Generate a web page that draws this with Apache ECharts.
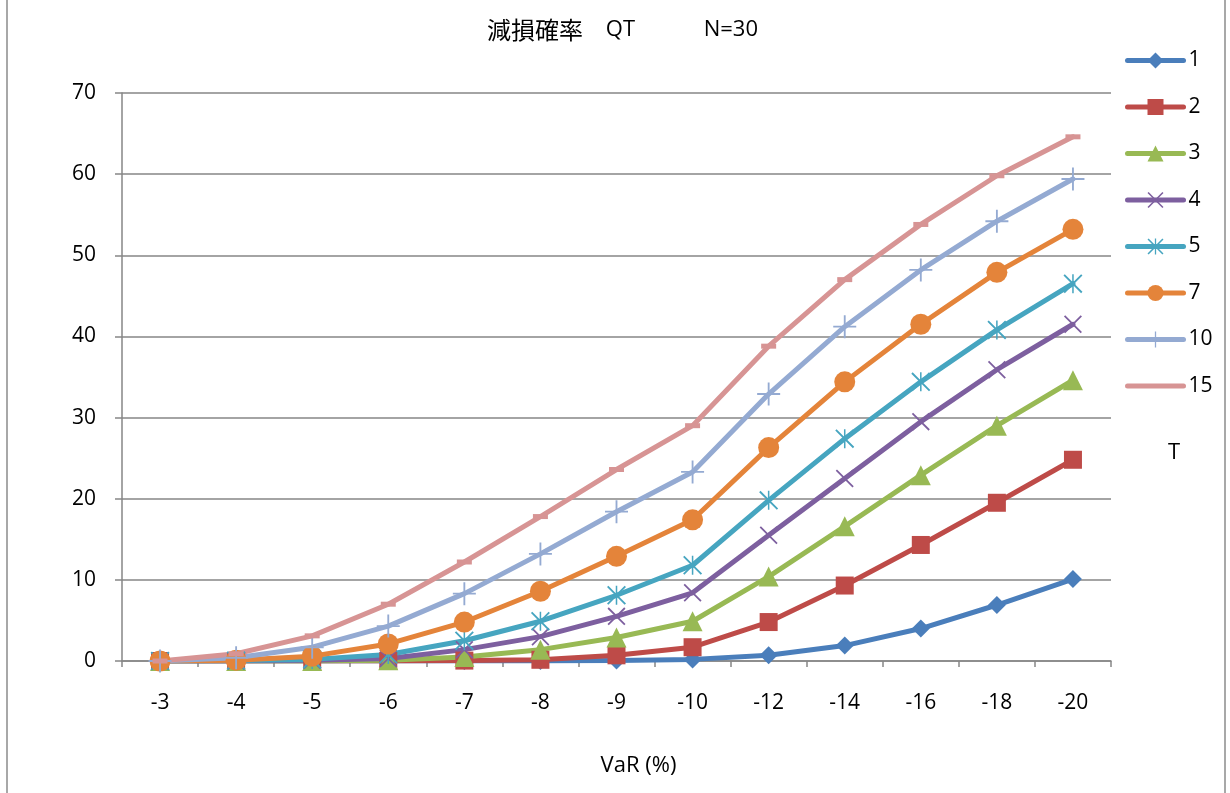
<!DOCTYPE html>
<html>
<head>
<meta charset="utf-8">
<script src="https://cdn.jsdelivr.net/npm/echarts@6/dist/echarts.min.js"></script>
<style>
  html, body { margin: 0; padding: 0; background: #fff; }
  #chart { width: 1230px; height: 793px; }
</style>
</head>
<body>
<div id="chart"></div>
<script>
// VaR thresholds (%) along the x axis
const categories = ['-3', '-4', '-5', '-6', '-7', '-8', '-9', '-10', '-12', '-14', '-16', '-18', '-20'];

// Impairment probability for each holding period T
const t1  = [0, 0, 0, 0, 0, 0, 0.05, 0.2, 0.7, 1.9, 4.0, 6.9, 10.1];
const t2  = [0, 0, 0, 0, 0.05, 0.15, 0.7, 1.7, 4.8, 9.3, 14.3, 19.5, 24.8];
const t3  = [0, 0, 0, 0.1, 0.5, 1.4, 2.9, 4.9, 10.4, 16.6, 22.9, 29.0, 34.6];
const t4  = [0, 0, 0.1, 0.3, 1.4, 3.0, 5.5, 8.4, 15.5, 22.5, 29.5, 35.9, 41.5];
const t5  = [0, 0.05, 0.2, 0.8, 2.5, 4.9, 8.1, 11.8, 19.8, 27.4, 34.4, 40.8, 46.5];
const t7  = [0, 0.1, 0.6, 2.1, 4.8, 8.6, 12.9, 17.4, 26.3, 34.4, 41.5, 47.9, 53.2];
const t10 = [0, 0.4, 1.7, 4.3, 8.3, 13.2, 18.4, 23.3, 32.9, 41.2, 48.2, 54.2, 59.4];
const t15 = [0, 0.9, 3.1, 7.0, 12.2, 17.8, 23.6, 29.0, 38.8, 47.0, 53.8, 59.8, 64.6];

const seriesNames = ['1', '2', '3', '4', '5', '7', '10', '15'];
const yTicks = { min: 0, max: 70, step: 10 };

// Marker shapes in the style of spreadsheet line charts
const SYM_X = 'path://M0,7 L7,0 L100,93 L93,100 Z M93,0 L100,7 L7,100 L0,93 Z';
const SYM_STAR = 'path://M0,7 L7,0 L100,93 L93,100 Z M93,0 L100,7 L7,100 L0,93 Z M46,0 L54,0 L54,100 L46,100 Z';
const SYM_PLUS = 'path://M46,0 L54,0 L54,46 L100,46 L100,54 L54,54 L54,100 L46,100 L46,54 L0,54 L0,46 L46,46 Z';
const SYM_DASH = 'path://M0,0 L100,0 L100,30 L0,30 Z';

const styles = [
  { data: t1,  color: '#4A7EBB', symbol: 'diamond',  size: 18 },
  { data: t2,  color: '#BE4B48', symbol: 'rect',     size: 18 },
  { data: t3,  color: '#98B954', symbol: 'triangle', size: 20 },
  { data: t4,  color: '#7D5F9F', symbol: SYM_X,      size: 18 },
  { data: t5,  color: '#46A5C0', symbol: SYM_STAR,   size: 19 },
  { data: t7,  color: '#E4843A', symbol: 'circle',   size: 21 },
  { data: t10, color: '#94AAD2', symbol: SYM_PLUS,   size: 23 },
  { data: t15, color: '#D79494', symbol: SYM_DASH,   size: [15, 5] }
];

const latin = "'Open Sans', Lato, sans-serif";
const cjk = "'Noto Sans CJK JP', 'Noto Sans CJK SC', sans-serif";

const chart = echarts.init(document.getElementById('chart'), null, { renderer: 'canvas' });

chart.setOption({
  animation: false,
  backgroundColor: '#ffffff',
  title: {
    left: 482,
    top: 13,
    text: '{a|減損確率}{b|    QT            N=30}',
    textStyle: {
      fontWeight: 'normal',
      rich: {
        a: { fontFamily: cjk, fontSize: 24, fontWeight: 'normal', color: '#000' },
        b: { fontFamily: latin, fontSize: 22, fontWeight: 'normal', color: '#000' }
      }
    }
  },
  legend: {
    orient: 'vertical',
    left: 1120,
    top: 45,
    itemWidth: 56,
    itemHeight: 20,
    itemGap: 25.5,
    data: seriesNames.map(n => n === '15'
      ? { name: n, itemStyle: { opacity: 0 } }
      : { name: n }),
    lineStyle: { width: 5, cap: 'round' },
    textStyle: { fontFamily: latin, fontSize: 21, lineHeight: 19, color: '#000' }
  },
  grid: { left: 122, right: 119, top: 93, bottom: 132, containLabel: false },
  xAxis: {
    type: 'category',
    data: categories,
    boundaryGap: true,
    name: 'VaR (%)',
    nameLocation: 'middle',
    nameGap: 94,
    nameTextStyle: { fontFamily: latin, fontSize: 22, color: '#000', padding: [0, 0, 0, 44] },
    axisLine: { lineStyle: { color: '#868686', width: 1.5 } },
    axisTick: { show: true, length: 6, lineStyle: { color: '#868686', width: 1.5 } },
    axisLabel: { margin: 32, fontFamily: latin, fontSize: 21, color: '#000' },
    splitLine: { show: false }
  },
  yAxis: {
    type: 'value',
    min: yTicks.min,
    max: yTicks.max,
    interval: yTicks.step,
    axisLine: { show: true, lineStyle: { color: '#868686', width: 1.5 } },
    axisTick: { show: true, length: 7, lineStyle: { color: '#868686', width: 1.5 } },
    axisLabel: { margin: 26, fontFamily: latin, fontSize: 21, color: '#000' },
    splitLine: { show: true, lineStyle: { color: '#868686', width: 1.5 } }
  },
  series: styles.map((s, i) => ({
    name: seriesNames[i],
    type: 'line',
    data: s.data,
    symbol: s.symbol,
    symbolSize: s.size,
    showAllSymbol: true,
    smooth: false,
    lineStyle: { color: s.color, width: 5, cap: 'round', join: 'round' },
    itemStyle: { color: s.color, borderColor: s.color, borderWidth: 0 },
    emphasis: { disabled: true }
  })),
  graphic: [
    {
      type: 'rect',
      shape: { x: 7, y: -10, width: 1218, height: 820 },
      style: { fill: 'none', stroke: '#8C8C8C', lineWidth: 1.5 },
      silent: true
    },
    {
      type: 'text',
      left: 1168,
      top: 442,
      style: { text: 'T', fontFamily: latin, fontSize: 22, fill: '#000' }
    }
  ]
});
</script>
</body>
</html>
